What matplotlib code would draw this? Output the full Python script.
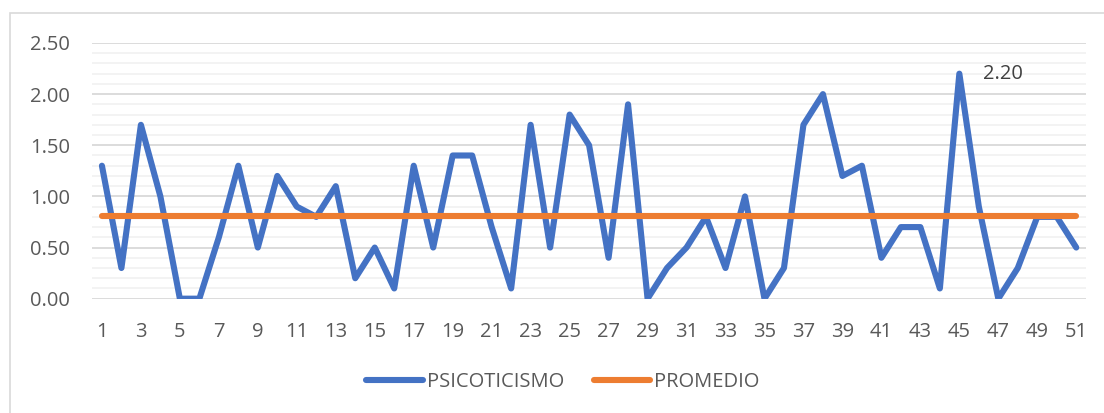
import matplotlib
matplotlib.use("Agg")
import matplotlib.pyplot as plt
from matplotlib.patches import Rectangle
from matplotlib.ticker import MultipleLocator

plt.rcParams['font.family'] = ['Open Sans', 'DejaVu Sans']

# data
casos = list(range(1, 52))
psicoticismo = [1.3, 0.3, 1.7, 1.0, 0.0, 0.0, 0.6, 1.3, 0.5, 1.2,
                0.9, 0.8, 1.1, 0.2, 0.5, 0.1, 1.3, 0.5, 1.4, 1.4,
                0.7, 0.1, 1.7, 0.5, 1.8, 1.5, 0.4, 1.9, 0.0, 0.3,
                0.5, 0.8, 0.3, 1.0, 0.0, 0.3, 1.7, 2.0, 1.2, 1.3,
                0.4, 0.7, 0.7, 0.1, 2.2, 0.9, 0.0, 0.3, 0.8, 0.8,
                0.5]
promedio = [0.81] * len(casos)
pico_idx = 44  # case 45, labelled 2.20

blue = '#4472C4'
orange = '#ED7D31'
grey_txt = '#595959'

fig = plt.figure(figsize=(11.04, 4.13), dpi=100)
ax = fig.add_axes([0.0835, 0.2768, 0.9002, 0.6191])

# chart frame (only left and top edges visible in the reference)
fig.add_artist(Rectangle((10 / 1104, -0.5), 1.5, 0.5 + (1 - 13 / 413),
                         transform=fig.transFigure, fill=False,
                         edgecolor='#D9D9D9', linewidth=1.2))

ax.plot(casos, psicoticismo, color=blue, linewidth=4.4,
        solid_joinstyle='round', solid_capstyle='round',
        label='PSICOTICISMO', zorder=3)
ax.plot(casos, promedio, color=orange, linewidth=4.4,
        solid_capstyle='round', label='PROMEDIO', zorder=4)

ax.annotate(f'{psicoticismo[pico_idx]:.2f}',
            xy=(casos[pico_idx], psicoticismo[pico_idx]),
            xytext=(24, 0), textcoords='offset pixels',
            ha='left', va='center', fontsize=14.5, color='#404040')

ax.set_xlim(0.5, 51.5)
ax.set_ylim(0, 2.5)
ax.set_xticks(casos[::2])
ax.set_xticklabels([str(c) for c in casos[::2]])
ax.yaxis.set_major_locator(MultipleLocator(0.5))
ax.yaxis.set_minor_locator(MultipleLocator(0.1))
ax.yaxis.set_major_formatter(lambda v, p: f'{v:.2f}')

ax.grid(axis='y', which='major', color='#D9D9D9', linewidth=1.3)
ax.grid(axis='y', which='minor', color='#F2F2F2', linewidth=1.3)
ax.set_axisbelow(True)

for s in ax.spines.values():
    s.set_visible(False)
ax.tick_params(axis='both', which='both', length=0, labelsize=14.5,
               labelcolor=grey_txt)
ax.tick_params(axis='y', pad=16)
ax.tick_params(axis='x', pad=17)

fig.legend(loc='center', bbox_to_anchor=(0.510, 0.075), ncol=2,
           frameon=False, fontsize=14.5, labelcolor=grey_txt,
           handlelength=2.8, handletextpad=0.2, columnspacing=1.5)

fig.savefig('out.png', dpi=100)
